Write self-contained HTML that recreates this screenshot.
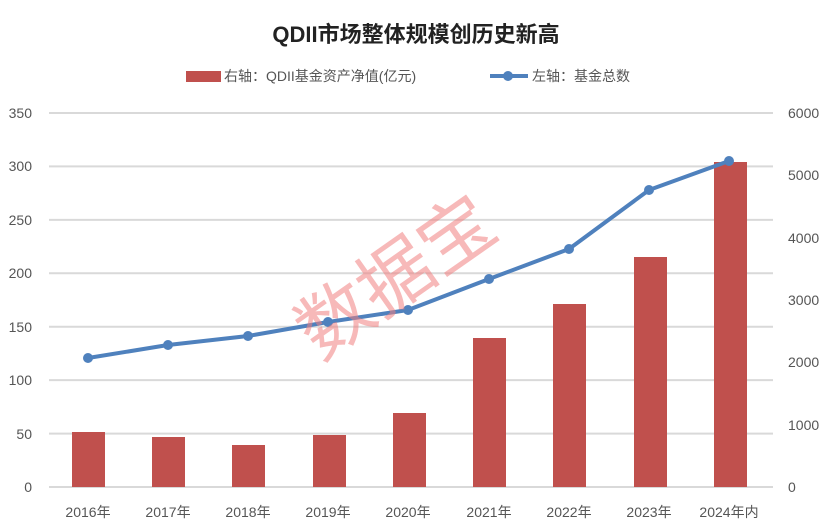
<!DOCTYPE html>
<html><head><meta charset="utf-8"><style>
body{margin:0;background:#fff;}
svg{display:block;font-family:"Liberation Sans","Noto Sans CJK SC",sans-serif;}
</style></head><body>
<svg width="832" height="532" viewBox="0 0 832 532">
<text x="416" y="42" text-anchor="middle" font-size="22" font-weight="bold" fill="#222">QDII市场整体规模创历史新高</text>
<rect x="186" y="71" width="35" height="11" fill="#c0504d"/>
<text x="224" y="81" font-size="14" fill="#555">右轴：QDII基金资产净值(亿元)</text>
<line x1="490" y1="76" x2="528" y2="76" stroke="#4f81bd" stroke-width="4"/>
<circle cx="508" cy="76" r="5" fill="#4f81bd"/>
<text x="532" y="81" font-size="14" fill="#555">左轴：基金总数</text>
<g stroke="#d9d9d9" stroke-width="2">
<line x1="49" y1="113" x2="773" y2="113"/><line x1="49" y1="166.4" x2="773" y2="166.4"/>
<line x1="49" y1="219.9" x2="773" y2="219.9"/><line x1="49" y1="273.3" x2="773" y2="273.3"/>
<line x1="49" y1="326.7" x2="773" y2="326.7"/><line x1="49" y1="380.1" x2="773" y2="380.1"/>
<line x1="49" y1="433.6" x2="773" y2="433.6"/><line x1="49" y1="487" x2="773" y2="487"/>
</g>
<g font-size="14" fill="#555" text-anchor="end">
<text x="32" y="118">350</text><text x="32" y="171">300</text><text x="32" y="225">250</text>
<text x="32" y="278">200</text><text x="32" y="332">150</text><text x="32" y="385">100</text>
<text x="32" y="439">50</text><text x="32" y="492">0</text>
</g>
<g font-size="14" fill="#555" text-anchor="start">
<text x="788" y="118">6000</text><text x="788" y="180">5000</text><text x="788" y="243">4000</text>
<text x="788" y="305">3000</text><text x="788" y="367">2000</text><text x="788" y="430">1000</text>
<text x="788" y="492">0</text>
</g>
<g fill="#c0504d">
<rect x="72" y="432" width="33" height="55"/><rect x="152" y="437" width="33" height="50"/>
<rect x="232" y="445" width="33" height="42"/><rect x="313" y="435" width="33" height="52"/>
<rect x="393" y="413" width="33" height="74"/><rect x="473" y="338" width="33" height="149"/>
<rect x="553" y="304" width="33" height="183"/><rect x="634" y="257" width="33" height="230"/>
<rect x="714" y="162" width="33" height="325"/>
</g>
<polyline points="88,358 168,345 248,336 328,322 408,310 489,279 569,249 649,190 729,161" fill="none" stroke="#4f81bd" stroke-width="4" stroke-linejoin="round"/>
<g fill="#4f81bd">
<circle cx="88" cy="358" r="5"/><circle cx="168" cy="345" r="5"/><circle cx="248" cy="336" r="5"/>
<circle cx="328" cy="322" r="5"/><circle cx="408" cy="310" r="5"/><circle cx="489" cy="279" r="5"/>
<circle cx="569" cy="249" r="5"/><circle cx="649" cy="190" r="5"/><circle cx="729" cy="161" r="5"/>
</g>
<g font-size="14" fill="#555" text-anchor="middle">
<text x="88" y="517">2016年</text><text x="168" y="517">2017年</text><text x="248" y="517">2018年</text>
<text x="328" y="517">2019年</text><text x="408" y="517">2020年</text><text x="489" y="517">2021年</text>
<text x="569" y="517">2022年</text><text x="649" y="517">2023年</text><text x="729" y="517">2024年内</text>
</g>
<text x="398" y="302" font-size="74" fill="#f08080" fill-opacity="0.55" text-anchor="middle" transform="rotate(-35 398 280)">数据宝</text>
</svg>
</body></html>
